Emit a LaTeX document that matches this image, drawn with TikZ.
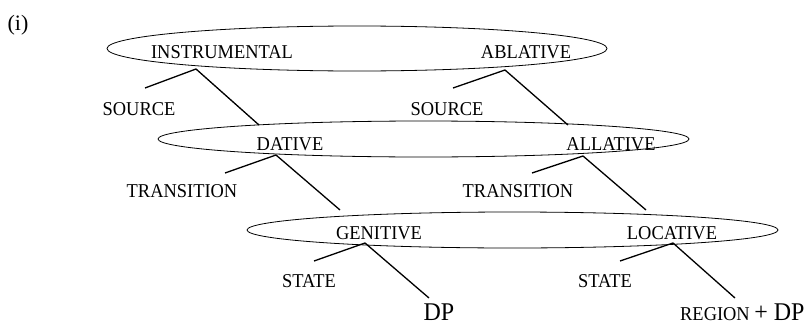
\documentclass[tikz,border=0pt]{standalone}
\usepackage{fontspec}
\setmainfont{Liberation Serif}
\newfontfamily\casefont[FakeStretch=0.94]{Liberation Serif}
\usetikzlibrary{shapes.geometric}
\begin{document}
\begin{tikzpicture}[x=1pt,y=-1pt,
  lbl/.style={font=\casefont\fontsize{19.6}{21}\selectfont, inner sep=0pt, anchor=base},
  big/.style={font=\casefont\fontsize{25.5}{27}\selectfont, inner sep=0pt, anchor=base, text depth=0pt},
  oval/.style={draw, ellipse, inner sep=0pt, line width=0.8pt},
  branch/.style={line width=1.3pt}]
\useasboundingbox (0,0) rectangle (811,324);

% example number
\node[font=\fontsize{22}{24}\selectfont, inner sep=0pt, anchor=base] (num) at (18,30) {(i)};

% the three case layers
\node[oval, minimum width=500, minimum height=45] (o1) at (357,48.5) {};
\node[oval, minimum width=531, minimum height=36] (o2) at (423.5,139) {};
\node[oval, minimum width=531, minimum height=36] (o3) at (512.5,230) {};

% case labels
\node[lbl] (instr) at (222,58) {INSTRUMENTAL};
\node[lbl] (abl)   at (526,58) {ABLATIVE};
\node[lbl] (dat)   at (290,150) {DATIVE};
\node[lbl] (all)   at (611,150) {ALLATIVE};
\node[lbl] (gen)   at (379,239) {GENITIVE};
\node[lbl] (loc)   at (672,239) {LOCATIVE};

% feature labels
\node[lbl] (src1) at (139,115) {SOURCE};
\node[lbl] (src2) at (447,115) {SOURCE};
\node[lbl] (tr1)  at (182,197) {TRANSITION};
\node[lbl] (tr2)  at (518,197) {TRANSITION};
\node[lbl] (st1)  at (309,287) {STATE};
\node[lbl] (st2)  at (605,287) {STATE};

% complements
\node[big] (dp) at (439,320) {DP};
\node[lbl, anchor=base west, text depth=0pt] (rdp) at (680,320)
  {REGION \fontsize{25.5}{27}\selectfont + DP};

% branching points and branch ends
\coordinate (ia) at (196,69);  \coordinate (is) at (145,88);  \coordinate (ie) at (259,125);
\coordinate (aa) at (505,70);  \coordinate (as) at (453,88);  \coordinate (ae) at (568,125);
\coordinate (da) at (276,155); \coordinate (ds) at (225,173); \coordinate (de) at (340,210);
\coordinate (la) at (583,156); \coordinate (ls) at (532,173); \coordinate (le) at (646,210);
\coordinate (ga) at (365,243); \coordinate (gs) at (314,261); \coordinate (ge) at (429,298);
\coordinate (ca) at (673,243); \coordinate (cs) at (620,261); \coordinate (ce) at (735,298);

\draw[branch] (is) -- (ia) -- (ie);
\draw[branch] (as) -- (aa) -- (ae);
\draw[branch] (ds) -- (da) -- (de);
\draw[branch] (ls) -- (la) -- (le);
\draw[branch] (gs) -- (ga) -- (ge);
\draw[branch] (cs) -- (ca) -- (ce);
\end{tikzpicture}
\end{document}
